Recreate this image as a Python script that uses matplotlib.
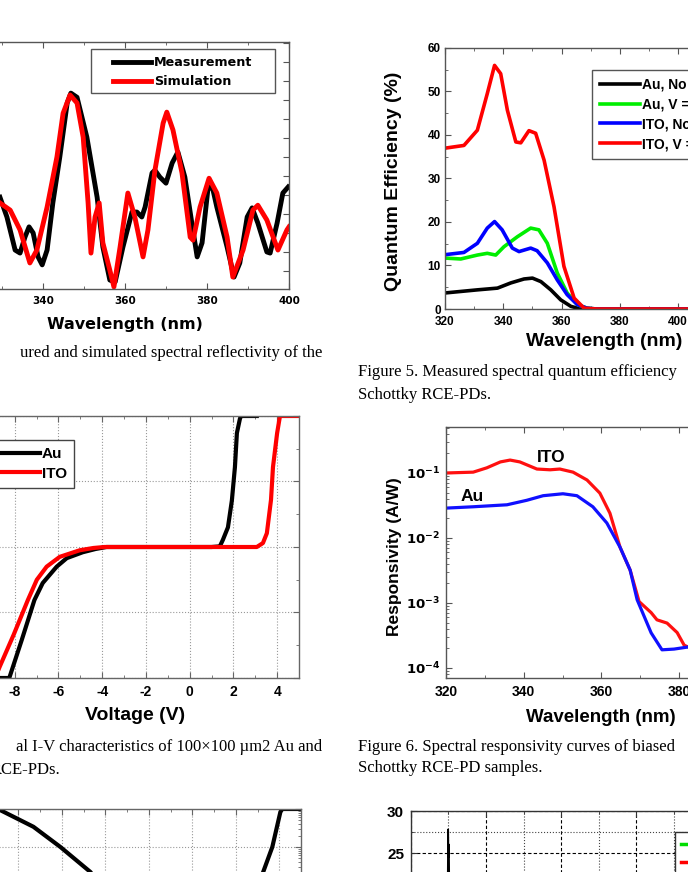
import matplotlib
matplotlib.use('Agg')
import matplotlib.pyplot as plt
from matplotlib.ticker import MultipleLocator, FixedLocator, LogLocator, NullFormatter
from matplotlib.lines import Line2D
from matplotlib.patches import Rectangle

plt.rcParams['font.family'] = ['Liberation Sans', 'DejaVu Sans']
plt.rcParams['axes.unicode_minus'] = False

# ---- reflectivity (top left) ----
wl_meas = [329.5, 331.2, 333.2, 334.4, 335.6, 336.6, 337.6, 338.8, 339.8, 341.0, 342.4, 344.1,
           345.9, 346.8, 348.3, 350.7, 353.2, 354.6, 356.3, 357.6, 359.5, 361.7, 362.9, 364.1,
           364.9, 366.6, 367.3, 368.5, 370.0, 371.5, 372.9, 374.6, 376.3, 377.6, 378.8, 380.2,
           381.2, 382.4, 384.9, 386.6, 388.0, 389.8, 391.0, 392.4, 394.6, 395.4, 397.1, 398.5, 399.8]
r_meas = [24.4, 19.2, 10.5, 9.7, 13.9, 16.6, 15.0, 8.7, 6.6, 10.5, 22.9, 35.0,
          49.2, 51.8, 50.7, 40.2, 24.4, 11.3, 2.6, 2.1, 11.3, 20.5, 20.5, 19.2,
          21.8, 30.8, 31.5, 29.7, 28.1, 33.4, 36.3, 29.7, 17.6, 8.7, 12.4, 26.3,
          27.6, 21.8, 11.3, 3.4, 7.1, 19.2, 21.6, 17.6, 10.0, 9.7, 17.6, 25.5, 27.1]
wl_sim = [329.5, 332.0, 334.4, 336.8, 338.5, 341.0, 343.4, 344.9, 346.6, 348.3, 349.8, 351.0,
          351.7, 352.7, 353.7, 354.6, 356.3, 357.3, 358.8, 360.7, 362.4, 364.4, 365.6, 367.3,
          369.3, 370.2, 371.7, 373.9, 375.9, 376.6, 378.3, 380.5, 382.4, 384.9, 386.3, 388.8,
          391.2, 392.4, 394.6, 397.3, 399.5, 400.0]
r_sim = [22.9, 21.0, 15.8, 7.1, 10.5, 21.8, 35.0, 46.5, 51.3, 49.2, 40.2, 22.9,
         9.7, 19.2, 22.9, 12.4, 5.2, 0.8, 11.3, 25.5, 19.2, 8.7, 15.8, 31.5,
         43.9, 46.8, 42.1, 30.8, 13.9, 13.1, 21.8, 29.4, 25.5, 13.9, 3.4, 10.5,
         21.0, 22.3, 18.4, 10.5, 15.8, 16.6]

# ---- quantum efficiency (top right) ----
qe_wl_au0 = [320.2, 331.1, 338.0, 342.6, 347.1, 350.0, 352.9, 356.3, 359.7, 363.2, 366.6, 420]
qe_au0 = [3.7, 4.4, 4.8, 6.0, 6.9, 7.1, 6.3, 4.4, 2.1, 0.6, 0.0, 0.0]
qe_wl_auv = [320.2, 325.4, 331.1, 334.5, 337.4, 340.2, 344.8, 349.4, 352.2, 355.1, 358.5, 361.9, 365.4, 368.7, 372, 420]
qe_auv = [11.7, 11.5, 12.4, 12.8, 12.4, 14.3, 16.6, 18.6, 18.2, 15.1, 8.3, 3.7, 1.0, 0.2, 0.0, 0.0]
qe_wl_ito0 = [320.2, 326.5, 331.1, 334.5, 337.0, 339.6, 343.1, 345.4, 349.4, 351.6, 355.1, 358.5, 361.9, 365.4, 368.7, 372, 420]
qe_ito0 = [12.5, 13.0, 15.1, 18.6, 20.1, 18.2, 14.0, 13.2, 14.0, 13.4, 10.6, 6.7, 3.3, 1.0, 0.2, 0.0, 0.0]
qe_wl_itov = [320.3, 326.5, 331.1, 334.5, 337.0, 339.1, 341.4, 344.3, 346.0, 348.8, 351.1, 354.0, 357.4, 360.8, 364.3, 367.7, 372, 420]
qe_itov = [37.0, 37.6, 41.1, 49.5, 56.0, 54.1, 45.7, 38.4, 38.2, 41.0, 40.4, 34.2, 23.5, 9.8, 2.5, 0.2, 0.0, 0.0]
qe_labels = ['Au, No bias', 'Au, V = -10 V', 'ITO, No bias', 'ITO, V = -10 V']

# ---- I-V (middle left) ----
iv_v_au = [-10, -8.25, -7.68, -7.1, -6.72, -6.08, -5.62, -4.89, -4.3, -3.8, 1.0, 1.38, 1.52, 1.75, 1.93, 2.07, 2.16, 2.3, 2.35, 3.07]
iv_i_au = [-2, -2, -1.42, -0.81, -0.55, -0.30, -0.17, -0.08, -0.03, 0, 0, 0.01, 0.11, 0.30, 0.71, 1.22, 1.74, 1.96, 2, 2]
iv_v_ito = [-10, -8.9, -8.69, -8.05, -7.4, -6.99, -6.54, -5.94, -5.03, -4.4, -3.9, 3.07, 3.35, 3.53, 3.72, 3.81, 4.0, 4.13, 5.0]
iv_i_ito = [-2, -2, -1.83, -1.34, -0.81, -0.5, -0.30, -0.15, -0.05, -0.015, 0, 0, 0.06, 0.21, 0.72, 1.22, 1.74, 2, 2]

# ---- responsivity (middle right) ----
resp_wl_ito = [320, 327, 330.5, 334, 336.5, 339, 343.4, 346.8, 349.3, 352.7, 356.3, 359.6, 362.2,
               364.8, 367.4, 369.7, 372.8, 374.3, 376.9, 379.5, 381.3, 382.3, 383.5]
resp_ito = [0.1, 0.103, 0.12, 0.148, 0.158, 0.148, 0.115, 0.112, 0.115, 0.103, 0.078, 0.049, 0.024,
            0.0072, 0.0032, 0.00105, 0.00071, 0.00055, 0.00049, 0.00035, 0.000224, 0.00021, 0.0002]
resp_wl_au = [320, 327, 335.7, 340.8, 345, 350.1, 353.7, 357.8, 361.4, 364.8, 367.4, 369.2,
              372.8, 375.6, 378.7, 382.3, 384]
resp_au = [0.0288, 0.0302, 0.0324, 0.038, 0.0447, 0.0479, 0.0447, 0.0302, 0.017, 0.0072, 0.0032,
           0.00112, 0.000347, 0.00019, 0.000195, 0.00021, 0.00021]

# ---- dark current (bottom left) ----
dark_v = [-10, -8.83, -7.31, -6.07, -4.69, -3.0, 0.0, 2.5, 3.26, 3.68, 4.05, 4.14, 5.0]
dark_i = [1e-3, 9.3e-4, 3.4e-4, 1e-4, 2.2e-5, 1e-6, 1e-9, 1e-6, 2.2e-5, 1e-4, 8.3e-4, 1e-3, 1e-3]

# ---- bottom right ----
spike_x = [0.47, 0.49, 0.495, 0.50, 0.505, 0.51, 0.53]
spike_y = [20, 21, 27.8, 24.5, 26, 21, 20]

W, H = 688, 872
fig = plt.figure(figsize=(W / 100, H / 100), dpi=100)
FRAME = '#555555'


def add_ax(l, t, r, b):
    return fig.add_axes([l / W, 1 - b / H, (r - l) / W, (b - t) / H])


def fxy(x, y):
    return (x / W, 1 - y / H)


def style(ax, color=FRAME):
    for s in ax.spines.values():
        s.set_color(color)
        s.set_linewidth(1.0)
    ax.tick_params(which='both', direction='in', top=True, right=True, color=color)
    ax.tick_params(which='major', length=4)
    ax.tick_params(which='minor', length=2.5)


def put_xlabel(ax, text, x, y, **kw):
    ax.set_xlabel(text, va='center', **kw)
    ax.xaxis.set_label_coords(*fxy(x, y), transform=fig.transFigure)


def put_ylabel(ax, text, x, y, **kw):
    ax.set_ylabel(text, va='center', **kw)
    ax.yaxis.set_label_coords(*fxy(x, y), transform=fig.transFigure)


bold_dv = dict(family='DejaVu Sans', weight='bold')

# top left: reflectivity
axA = add_ax(-39, 42, 289, 289)
axA.plot(wl_meas, r_meas, color='black', lw=3.5, label='Measurement')
axA.plot(wl_sim, r_sim, color='red', lw=3.5, label='Simulation')
axA.set_xlim(320, 400)
axA.set_ylim(0.25, 65.25)
axA.set_xticks([340, 360, 380, 400])
axA.xaxis.set_minor_locator(MultipleLocator(10))
axA.yaxis.set_major_locator(MultipleLocator(5))
style(axA)
axA.tick_params(axis='x', labelsize=7.5, pad=5)
axA.tick_params(axis='y', labelleft=False)
for t in axA.get_xticklabels():
    t.set_fontfamily('DejaVu Sans')
    t.set_fontweight('bold')
put_xlabel(axA, 'Wavelength (nm)', 125, 324, fontsize=11.5, **bold_dv)
leg = axA.legend(loc='upper left', bbox_to_anchor=fxy(107, 50.5), bbox_transform=fig.transFigure,
                 prop=dict(family='DejaVu Sans', weight='bold', size=9.2), frameon=False,
                 borderaxespad=0, borderpad=0.45, handlelength=3.0, handletextpad=0.25,
                 labelspacing=0.45)
fig.patches.append(Rectangle(fxy(91, 93), 184 / W, 44 / H, transform=fig.transFigure,
                             fill=False, edgecolor=FRAME, lw=1.0))

# top right: quantum efficiency
axB = add_ax(445, 48, 736.5, 309)
axB.plot(qe_wl_au0, qe_au0, color='black', lw=2.6, label=qe_labels[0])
axB.plot(qe_wl_auv, qe_auv, color='#00ee00', lw=2.6, label=qe_labels[1])
axB.plot(qe_wl_ito0, qe_ito0, color='#0000ff', lw=2.6, label=qe_labels[2])
axB.plot(qe_wl_itov, qe_itov, color='#ff0000', lw=2.6, label=qe_labels[3])
axB.set_xlim(320, 420)
axB.set_ylim(0, 60)
axB.set_xticks([320, 340, 360, 380, 400])
axB.xaxis.set_minor_locator(MultipleLocator(10))
axB.yaxis.set_major_locator(MultipleLocator(10))
axB.yaxis.set_minor_locator(MultipleLocator(5))
style(axB)
axB.tick_params(labelsize=8.5, pad=3)
axB.tick_params(axis='x', pad=5)
for t in axB.get_xticklabels() + axB.get_yticklabels():
    t.set_fontweight('bold')
put_xlabel(axB, 'Wavelength (nm)', 604, 342, fontsize=14, fontweight='bold')
put_ylabel(axB, 'Quantum Efficiency (%)', 394, 181, fontsize=14, fontweight='bold')
leg = axB.legend(loc='upper left', bbox_to_anchor=fxy(592, 70), bbox_transform=fig.transFigure,
                 prop=dict(weight='bold', size=10), fancybox=False, edgecolor=FRAME, framealpha=1,
                 borderaxespad=0, borderpad=0.55, handlelength=2.9, handletextpad=0.15,
                 labelspacing=0.42)
leg.get_frame().set_linewidth(1.0)

# middle left: I-V
axC = add_ax(-29, 416, 299, 678)
axC.plot(iv_v_au, iv_i_au, color='black', lw=3, label='Au')
axC.plot(iv_v_ito, iv_i_ito, color='red', lw=3, label='ITO')
axC.set_xlim(-10, 5)
axC.set_ylim(-2, 2)
axC.set_xticks([-8, -6, -4, -2, 0, 2, 4])
axC.xaxis.set_minor_locator(MultipleLocator(1))
axC.yaxis.set_major_locator(MultipleLocator(1))
axC.yaxis.set_minor_locator(MultipleLocator(0.5))
axC.grid(True, which='major', ls=':', color='#999999', lw=0.8)
style(axC, '#666666')
axC.tick_params(labelsize=10, pad=5)
axC.tick_params(axis='y', labelleft=False)
for t in axC.get_xticklabels():
    t.set_fontweight('bold')
put_xlabel(axC, 'Voltage (V)', 135, 715, fontsize=14, fontweight='bold')
leg = axC.legend(loc='upper right', bbox_to_anchor=fxy(74, 440), bbox_transform=fig.transFigure,
                 prop=dict(weight='bold', size=11), fancybox=False, edgecolor='#444444',
                 framealpha=1, borderaxespad=0, borderpad=0.45, handlelength=3.5,
                 handletextpad=0.15, labelspacing=0.38)
leg.get_frame().set_linewidth(1.0)

# middle right: responsivity
axD = add_ax(446, 427, 834.5, 678)
axD.semilogy(resp_wl_ito, resp_ito, color='#ff1010', lw=2.3)
axD.semilogy(resp_wl_au, resp_au, color='#1010ff', lw=2.3)
axD.set_xlim(320, 420)
axD.set_ylim(7.0e-5, 0.51)
axD.set_xticks([320, 340, 360, 380])
axD.xaxis.set_minor_locator(MultipleLocator(10))
axD.yaxis.set_major_locator(FixedLocator([1e-4, 1e-3, 1e-2, 1e-1]))
axD.set_yticklabels([r'$\mathbf{10^{-4}}$', r'$\mathbf{10^{-3}}$', r'$\mathbf{10^{-2}}$', r'$\mathbf{10^{-1}}$'])
axD.yaxis.set_minor_locator(LogLocator(base=10, subs=range(2, 10)))
axD.yaxis.set_minor_formatter(NullFormatter())
style(axD)
axD.tick_params(labelsize=10, pad=5)
axD.tick_params(axis='y', labelsize=9.5, pad=4)
for t in axD.get_xticklabels():
    t.set_fontweight('bold')
axD.text(347.0, 0.176, 'ITO', fontsize=12.5, fontweight='bold', ha='center', va='center')
axD.text(326.7, 0.043, 'Au', fontsize=12.5, fontweight='bold', ha='center', va='center')
put_xlabel(axD, 'Wavelength (nm)', 601, 717, fontsize=13.5, fontweight='bold')
put_ylabel(axD, 'Responsivity (A/W)', 394, 557, fontsize=12.5, fontweight='bold')

# bottom left: dark current
axE = add_ax(-25, 809, 301, 1151)
axE.semilogy(dark_v, dark_i, color='black', lw=3)
axE.set_xlim(-10, 5)
axE.set_ylim(1e-12, 1e-3)
axE.set_xticks([-8, -6, -4, -2, 0, 2, 4])
axE.xaxis.set_minor_locator(MultipleLocator(1))
axE.yaxis.set_minor_locator(LogLocator(base=10, subs=range(2, 10)))
axE.yaxis.set_minor_formatter(NullFormatter())
axE.grid(True, which='major', ls=':', color='#999999', lw=0.8)
style(axE, '#666666')
axE.tick_params(labelleft=False, labelbottom=False)

# bottom right
axF = add_ax(411, 811, 786, 1063)
axF.plot(spike_x, spike_y, color='black', lw=1.3)
axF.set_xlim(0, 5)
axF.set_ylim(0, 30)
axF.xaxis.set_major_locator(MultipleLocator(1))
axF.xaxis.set_minor_locator(MultipleLocator(0.5))
axF.set_yticks([25, 30])
axF.yaxis.set_minor_locator(FixedLocator([2.5, 7.5, 12.5, 17.5, 22.5, 27.5]))
axF.grid(True, which='major', ls=(0, (3, 2)), color='black', lw=0.8)
axF.grid(True, which='minor', ls=':', color='#444444', lw=0.8)
style(axF, '#333333')
axF.tick_params(labelsize=11, pad=5, labelbottom=False)
for t in axF.get_yticklabels():
    t.set_fontweight('bold')
proxies = [Line2D([], [], color='#00dd00', lw=2.5), Line2D([], [], color='red', lw=2.5)]
leg = axF.legend(proxies, ['Au', 'ITO'], loc='upper left', bbox_to_anchor=fxy(675, 832),
                 bbox_transform=fig.transFigure, prop=dict(weight='bold', size=11),
                 fancybox=False, edgecolor='#333333', framealpha=1, borderaxespad=0,
                 borderpad=0.4, handlelength=3, labelspacing=0.3)
leg.get_frame().set_linewidth(1.0)

# captions
cap = dict(family='Liberation Serif', fontsize=12, va='center')
fig.text(*fxy(322, 353), 'ured and simulated spectral reflectivity of the', ha='right', **cap)
fig.text(*fxy(358, 372), 'Figure 5. Measured spectral quantum efficiency', ha='left', **cap)
fig.text(*fxy(358, 395), 'Schottky RCE-PDs.', ha='left', **cap)
fig.text(*fxy(322, 747), 'al I-V characteristics of 100\u00d7100 \u00b5m2 Au and', ha='right', **cap)
fig.text(*fxy(60, 770), 'RCE-PDs.', ha='right', **cap)
fig.text(*fxy(358, 747), 'Figure 6. Spectral responsivity curves of biased', ha='left', **cap)
fig.text(*fxy(358, 768), 'Schottky RCE-PD samples.', ha='left', **cap)

fig.savefig('out.png', dpi=100)
